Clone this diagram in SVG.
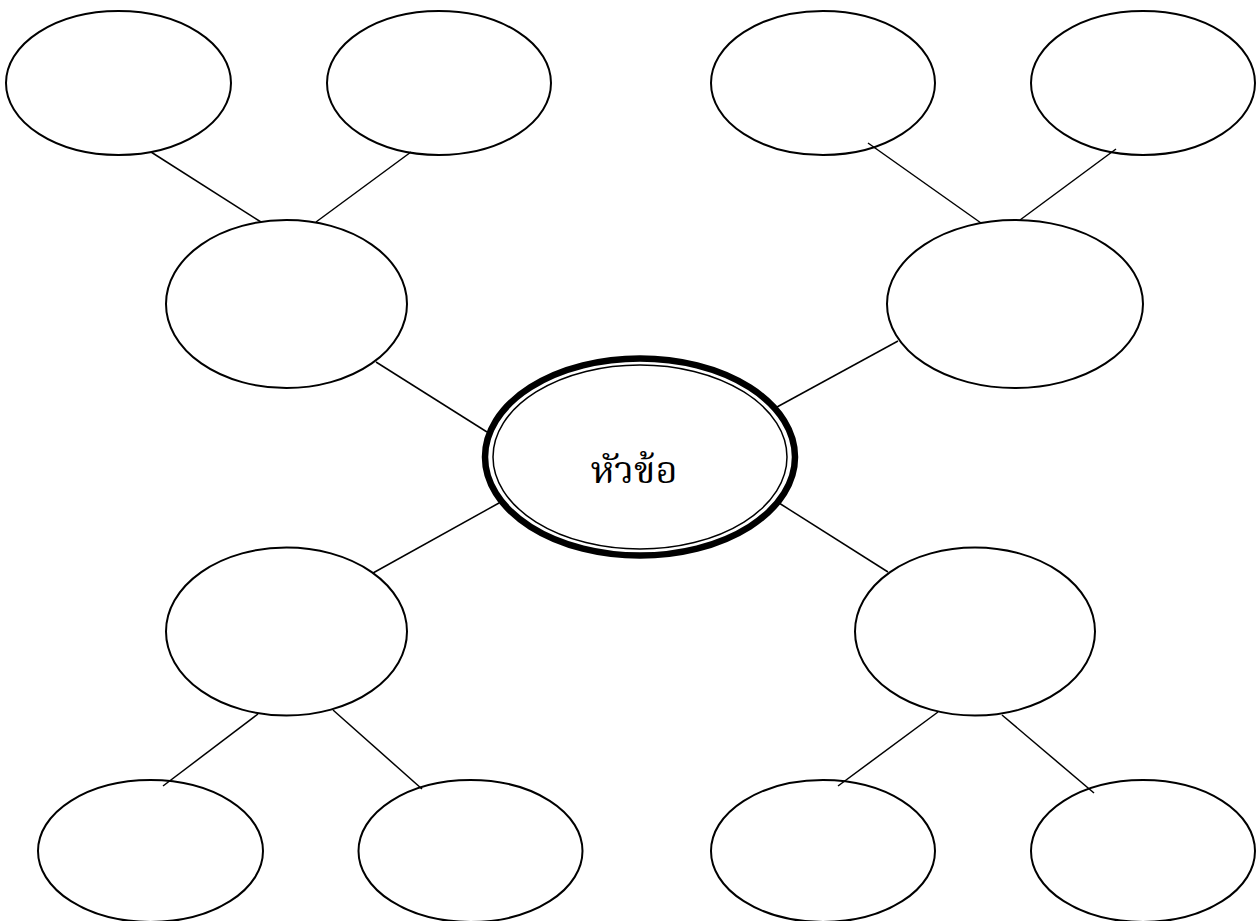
<svg xmlns="http://www.w3.org/2000/svg" width="1258" height="921" viewBox="0 0 1258 921">
<style>
.n{fill:none;stroke:#000;stroke-width:2}
.c line{stroke:#000;stroke-width:1.5}
.t{font-family:"Noto Serif Thai","Noto Sans Thai","Liberation Serif",serif;font-size:38px;font-weight:400;fill:#000;text-anchor:middle}
</style>
<rect width="1258" height="921" fill="#fff"/>
<g id="tl1"><ellipse class="n" cx="118.5" cy="83" rx="112.5" ry="72"/></g>
<g id="tl2"><ellipse class="n" cx="439" cy="83" rx="112" ry="72"/></g>
<g id="tr1"><ellipse class="n" cx="823" cy="83" rx="112" ry="72"/></g>
<g id="tr2"><ellipse class="n" cx="1143" cy="83" rx="112" ry="72"/></g>
<g id="lmid"><ellipse class="n" cx="286.5" cy="304" rx="120.5" ry="84"/></g>
<g id="rmid"><ellipse class="n" cx="1015" cy="304" rx="128" ry="84"/></g>
<g id="blmid"><ellipse class="n" cx="286.5" cy="631.5" rx="120.5" ry="84"/></g>
<g id="brmid"><ellipse class="n" cx="975" cy="631.5" rx="120" ry="84"/></g>
<g id="bl1"><ellipse class="n" cx="150.5" cy="851" rx="112.5" ry="71"/></g>
<g id="bl2"><ellipse class="n" cx="470.5" cy="851" rx="112" ry="71"/></g>
<g id="br1"><ellipse class="n" cx="823" cy="851" rx="112" ry="71"/></g>
<g id="br2"><ellipse class="n" cx="1143" cy="851" rx="112" ry="71"/></g>
<g id="center">
<ellipse cx="640" cy="457" rx="155" ry="98.5" fill="#fff" stroke="#000" stroke-width="6.5"/>
<ellipse cx="640" cy="457" rx="147" ry="92" fill="none" stroke="#000" stroke-width="1.5"/>
<text class="t" x="634" y="483">หัวข้อ</text>
</g>
<g class="c" id="connectors">
<line x1="151" y1="152" x2="261" y2="222"/>
<line x1="411" y1="152" x2="316" y2="222"/>
<line x1="376" y1="362" x2="487" y2="432"/>
<line x1="868" y1="143" x2="981" y2="223"/>
<line x1="1116" y1="149" x2="1020" y2="220"/>
<line x1="898" y1="341" x2="777" y2="407"/>
<line x1="499" y1="503" x2="373" y2="573"/>
<line x1="779" y1="503" x2="888" y2="572"/>
<line x1="258" y1="714" x2="163" y2="786"/>
<line x1="333" y1="710" x2="422" y2="789"/>
<line x1="938" y1="712" x2="838" y2="786"/>
<line x1="1002" y1="715" x2="1094" y2="793"/>
</g>
</svg>
